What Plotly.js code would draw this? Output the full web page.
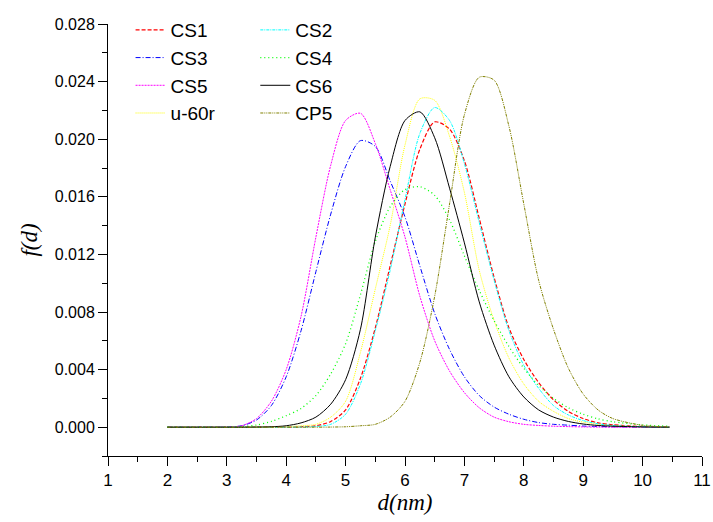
<!DOCTYPE html>
<html>
<head>
<meta charset="utf-8">
<script src="https://cdn.plot.ly/plotly-3.0.1.min.js"></script>
<style>html,body{margin:0;padding:0;background:#fff;}#chart{width:713px;height:522px;}</style>
</head>
<body>
<div id="chart"></div>
<script>
// diameter grid (nm)
const d = [2.0, 2.5, 3.0, 3.25, 3.5, 3.75, 4.0, 4.25, 4.5, 4.75, 5.0, 5.25, 5.5, 5.75, 6.0, 6.25, 6.5, 6.75, 7.0, 7.25, 7.5, 7.75, 8.0, 8.25, 8.5, 8.75, 9.0, 9.25, 9.5, 10.0, 10.45];

const CS1 = [0, 0, 0, 0, 0, 0, 0, 0.00003, 0.0001, 0.0004, 0.0012, 0.0034, 0.0069, 0.0112, 0.0155, 0.0193, 0.0212, 0.0207, 0.0185, 0.0145, 0.0104, 0.0069, 0.0047, 0.0031, 0.0019, 0.0011, 0.0006, 0.0003, 0.00017, 0.00004, 0];
const CS2 = [0, 0, 0, 0, 0, 0, 0, 0.00001, 0.00005, 0.0002, 0.0009, 0.0030, 0.0067, 0.0109, 0.0158, 0.0204, 0.0222, 0.0213, 0.0183, 0.0142, 0.0102, 0.0067, 0.0043, 0.0027, 0.0015, 0.00085, 0.00046, 0.00024, 0.00012, 0.00003, 0];
const CS3 = [0, 0, 0.00002, 0.0001, 0.0005, 0.0015, 0.0035, 0.0067, 0.0108, 0.0148, 0.0181, 0.0199, 0.0195, 0.0171, 0.0146, 0.0112, 0.0079, 0.0054, 0.0035, 0.0022, 0.0014, 0.0009, 0.00055, 0.00032, 0.0002, 0.00014, 0.00008, 0.00005, 0.00003, 0.00001, 0];
const CS4 = [0, 0, 0.00001, 0.00004, 0.00015, 0.0004, 0.0008, 0.0013, 0.0022, 0.0037, 0.0058, 0.0092, 0.0129, 0.0153, 0.0165, 0.0167, 0.0161, 0.0144, 0.0119, 0.0095, 0.0074, 0.0056, 0.0041, 0.0029, 0.0020, 0.00135, 0.0009, 0.00058, 0.00038, 0.00016, 0.00007];
const CS5 = [0, 0, 0.00002, 0.0001, 0.0006, 0.0018, 0.0040, 0.0077, 0.0132, 0.0182, 0.0213, 0.0218, 0.0197, 0.0165, 0.0132, 0.0091, 0.0060, 0.0039, 0.0024, 0.00135, 0.0007, 0.00038, 0.0002, 0.00012, 0.00007, 0.00004, 0.00002, 0.00001, 0, 0, 0];
const CS6 = [0, 0, 0, 0, 0.00001, 0.00003, 0.0001, 0.0003, 0.0007, 0.0016, 0.0033, 0.0068, 0.0132, 0.0181, 0.0213, 0.0219, 0.0201, 0.0166, 0.0128, 0.0087, 0.0057, 0.0035, 0.0021, 0.0012, 0.0007, 0.0004, 0.00022, 0.00012, 0.00007, 0.00002, 0];
const U60R = [0, 0, 0, 0, 0, 0.00001, 0.00003, 0.0001, 0.0002, 0.0007, 0.0018, 0.0052, 0.0096, 0.0140, 0.0196, 0.0228, 0.0227, 0.0202, 0.0163, 0.0109, 0.0074, 0.0048, 0.0030, 0.0018, 0.0011, 0.0006, 0.00035, 0.0002, 0.0001, 0.00003, 0];
const CP5 = [0, 0, 0, 0, 0, 0, 0, 0, 0, 0.00001, 0.00003, 0.0001, 0.0002, 0.0007, 0.0018, 0.0045, 0.0091, 0.0155, 0.0217, 0.0243, 0.0241, 0.0209, 0.0155, 0.0102, 0.0068, 0.0041, 0.0023, 0.0012, 0.0006, 0.00013, 0.00002];

const xTicks = [1, 2, 3, 4, 5, 6, 7, 8, 9, 10, 11];
const yTicks = [0.000, 0.004, 0.008, 0.012, 0.016, 0.020, 0.024, 0.028];

function tr(name, y, color, dash, width, legend) {
  return {
    x: d, y: y, name: name, type: 'scatter', mode: 'lines',
    line: {color: color, dash: dash, width: width, shape: 'spline', smoothing: 0.8},
    legend: legend
  };
}

const data = [
  tr('CS1', CS1, '#ff0000', '4px,2px', 1.2, 'legend'),
  tr('CS3', CS3, '#0000ff', '5px,2px,1px,2px', 1, 'legend'),
  tr('CS5', CS5, '#ff00ff', '2px,1px', 1, 'legend'),
  tr('u-60r', U60R, '#ffff00', '1px,1px', 1, 'legend'),
  tr('CS2', CS2, '#00ffff', '3px,1px,1px,1px', 1, 'legend2'),
  tr('CS4', CS4, '#00ff00', '1px,3px', 1.3, 'legend2'),
  tr('CS6', CS6, '#000000', 'solid', 1, 'legend2'),
  tr('CP5', CP5, '#808000', '3px,1px,1px,1px,1px,1px', 1, 'legend2')
];

const legendCommon = {
  font: {family: 'Liberation Sans, Arial, sans-serif', size: 19, color: '#000'},
  bgcolor: 'rgba(0,0,0,0)', borderwidth: 0,
  xanchor: 'left', yanchor: 'top', orientation: 'v', tracegroupgap: 0
};

const layout = {
  width: 713, height: 522,
  margin: {l: 108, r: 11, t: 19, b: 66, pad: 0},
  paper_bgcolor: '#fff', plot_bgcolor: '#fff',
  showlegend: true,
  legend: Object.assign({x: 0.038, y: 1.03}, legendCommon),
  legend2: Object.assign({x: 0.248, y: 1.03}, legendCommon),
  xaxis: {
    range: [1, 11], tickvals: xTicks, ticktext: xTicks.map(String),
    ticks: 'outside', ticklen: 9, tickwidth: 1, tickcolor: '#000',
    ticklabeloverflow: 'allow',
    showline: true, linecolor: '#000', linewidth: 1,
    showgrid: false, zeroline: false,
    minor: {dtick: 0.5, tick0: 1, ticks: 'outside', ticklen: 5, tickcolor: '#000', tickwidth: 1, showgrid: false},
    tickfont: {family: 'Liberation Sans, Arial, sans-serif', size: 17, color: '#000'},
    title: {text: '<i>d(nm)</i>', font: {family: 'Liberation Serif, Times New Roman, serif', size: 23, color: '#000'}, standoff: 2}
  },
  yaxis: {
    range: [-0.002, 0.028], tickvals: yTicks, ticktext: yTicks.map(v => v.toFixed(3)),
    ticks: 'outside', ticklen: 9, tickwidth: 1, tickcolor: '#000',
    showline: true, linecolor: '#000', linewidth: 1,
    showgrid: false, zeroline: false,
    minor: {dtick: 0.002, tick0: 0, ticks: 'outside', ticklen: 5, tickcolor: '#000', tickwidth: 1, showgrid: false},
    tickfont: {family: 'Liberation Sans, Arial, sans-serif', size: 16, color: '#000'},
    title: {text: '<i>f(d)</i>', font: {family: 'Liberation Serif, Times New Roman, serif', size: 23, color: '#000'}, standoff: 10}
  }
};

Plotly.newPlot('chart', data, layout, {staticPlot: true, displayModeBar: false});
</script>
</body>
</html>
